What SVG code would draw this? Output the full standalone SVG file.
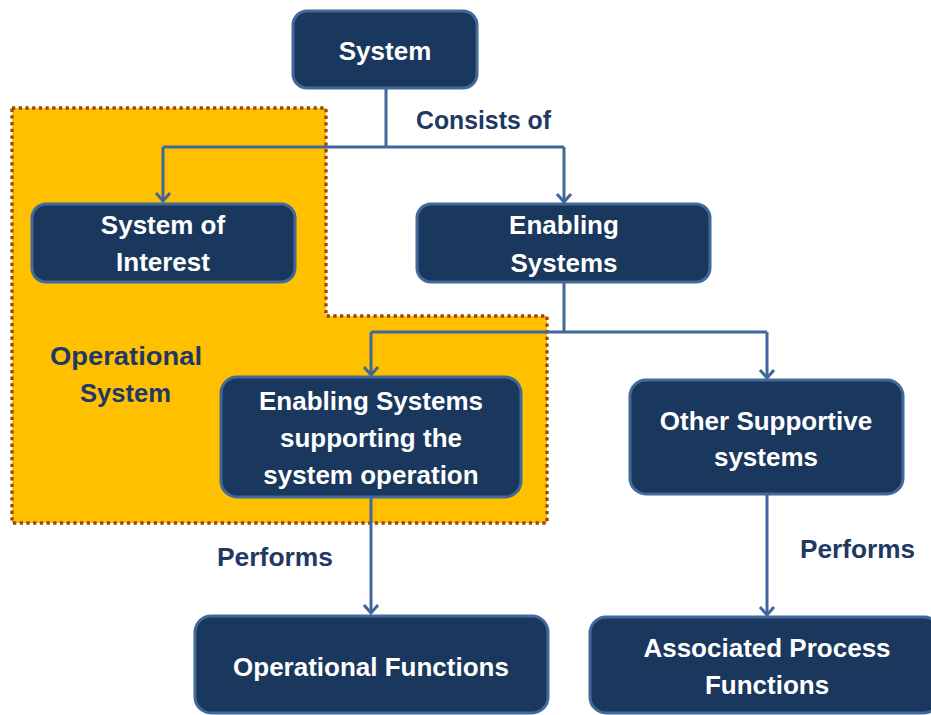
<svg xmlns="http://www.w3.org/2000/svg" width="931" height="715" viewBox="0 0 931 715">
<style>
.node rect{fill:#1A375E;stroke:#41699A;stroke-width:3}
.node text{fill:#FFFFFF;font-family:"Liberation Sans",Arial,sans-serif;font-weight:bold;font-size:26px;text-anchor:middle}
.lbl{fill:#1F3864;font-family:"Liberation Sans",Arial,sans-serif;font-weight:bold;font-size:25px}
.conn{fill:none;stroke:#41679A;stroke-width:3}
</style>
<defs>
<marker id="arr" viewBox="-10 -10 12 20" refX="0" refY="0" markerWidth="12" markerHeight="20" markerUnits="userSpaceOnUse" orient="auto">
<path d="M-8,-7 L0,0 L-8,7" fill="none" stroke="#41679A" stroke-width="3"/>
</marker>
</defs>
<rect width="931" height="715" fill="#FFFFFF"/>
<g id="operational-system">
<path d="M12,108 H326 V316 H547 V523 H12 Z" fill="#FFC000" stroke="#984807" stroke-width="3.3" stroke-dasharray="3.3 3.4"/>
<text class="lbl" x="50" y="365" textLength="152" lengthAdjust="spacingAndGlyphs">Operational</text>
<text class="lbl" x="80" y="402" textLength="91" lengthAdjust="spacingAndGlyphs">System</text>
</g>
<g id="connectors">
<path class="conn" d="M386,88 V147"/>
<path class="conn" d="M163,147 H564"/>
<path class="conn" d="M163,147 V201" marker-end="url(#arr)"/>
<path class="conn" d="M564,147 V202" marker-end="url(#arr)"/>
<path class="conn" d="M564,282 V332"/>
<path class="conn" d="M371,332 H767"/>
<path class="conn" d="M371,332 V375" marker-end="url(#arr)"/>
<path class="conn" d="M767,332 V378" marker-end="url(#arr)"/>
<path class="conn" d="M371,497 V613" marker-end="url(#arr)"/>
<path class="conn" d="M767,494 V615" marker-end="url(#arr)"/>
<text class="lbl" x="416" y="129" textLength="135" lengthAdjust="spacingAndGlyphs">Consists of</text>
<text class="lbl" x="217" y="566" textLength="116" lengthAdjust="spacingAndGlyphs">Performs</text>
<text class="lbl" x="800" y="558" textLength="115" lengthAdjust="spacingAndGlyphs">Performs</text>
</g>
<g id="system" class="node">
<rect x="293" y="11" width="184" height="77" rx="14"/>
<text x="385" y="60">System</text>
</g>
<g id="system-of-interest" class="node">
<rect x="32" y="204" width="263" height="78" rx="14"/>
<text x="163" y="234">System of</text>
<text x="163" y="271">Interest</text>
</g>
<g id="enabling-systems" class="node">
<rect x="417" y="204" width="293" height="78" rx="14"/>
<text x="564" y="234">Enabling</text>
<text x="564" y="272">Systems</text>
</g>
<g id="enabling-supporting" class="node">
<rect x="221" y="377" width="300" height="120" rx="16"/>
<text x="371" y="410">Enabling Systems</text>
<text x="371" y="447">supporting the</text>
<text x="371" y="484">system operation</text>
</g>
<g id="other-supportive" class="node">
<rect x="630" y="380" width="273" height="114" rx="16"/>
<text x="766" y="430">Other Supportive</text>
<text x="766" y="466">systems</text>
</g>
<g id="operational-functions" class="node">
<rect x="195" y="616" width="353" height="97" rx="16"/>
<text x="371" y="676">Operational Functions</text>
</g>
<g id="associated-process-functions" class="node">
<rect x="590" y="617" width="350" height="96" rx="16"/>
<text x="767" y="657">Associated Process</text>
<text x="767" y="694">Functions</text>
</g>
</svg>
